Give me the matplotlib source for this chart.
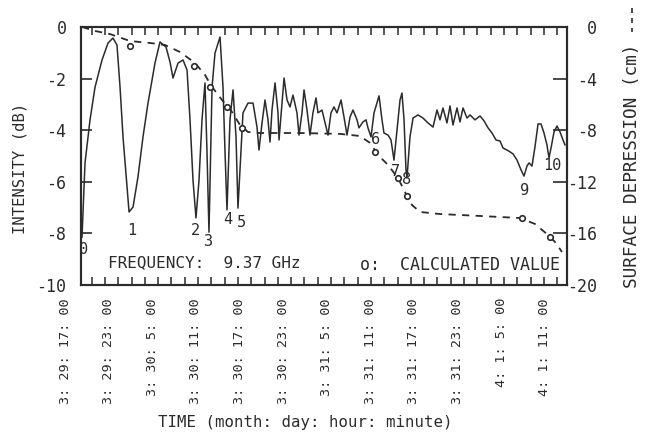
import numpy as np
import matplotlib
matplotlib.use('Agg')
import matplotlib.pyplot as plt
from matplotlib.lines import Line2D
from matplotlib.ticker import FixedLocator

# ── Data (time in hours counted from 3/29 00:00) ───────────────────────────
time_h = [19.62, 20.03, 20.72, 21.41, 22.37, 23.20, 23.88, 24.43, 24.85, 25.26,
          25.81, 26.09, 26.64, 27.32, 28.01, 28.70, 29.66, 30.35, 31.18, 31.73,
          32.14, 32.83, 33.52, 34.07, 34.48, 34.89, 35.30, 35.72, 36.13, 36.54,
          36.82, 37.09, 37.51, 37.92, 38.61, 39.02, 39.30, 39.57, 39.98, 40.40,
          40.81, 41.08, 41.77, 42.46, 43.15, 43.70, 43.97, 44.39, 44.80, 45.21,
          45.49, 45.76, 46.18, 46.59, 46.73, 47.14, 47.42, 47.83, 48.24, 48.65,
          49.20, 49.48, 49.89, 50.17, 50.58, 50.99, 51.40, 51.82, 52.09, 52.64,
          53.06, 53.47, 53.88, 54.29, 54.71, 55.26, 55.67, 56.08, 56.50, 56.91,
          57.46, 57.73, 58.28, 58.70, 58.97, 59.39, 59.80, 60.49, 60.90, 61.17,
          61.73, 62.14, 62.55, 62.96, 63.38, 63.65, 63.93, 64.20, 64.34, 64.75,
          65.17, 65.85, 66.54, 67.23, 67.92, 68.47, 68.88, 69.29, 69.84, 70.26,
          70.67, 71.22, 71.63, 72.05, 72.60, 73.01, 73.70, 74.39, 74.94, 75.49,
          76.04, 76.59, 77.14, 77.55, 78.10, 78.51, 78.93, 79.48, 80.03, 80.44,
          80.85, 81.13, 81.54, 81.95, 82.37, 82.78, 83.19, 83.60, 83.88, 84.16,
          84.57, 84.98, 85.40, 85.81, 86.08]
intensity_db = [-8.14, -5.27, -3.60, -2.33, -1.28, -0.62, -0.43, -0.70, -2.33, -4.26,
                -6.20, -7.17, -6.98, -5.81, -4.26, -2.95, -1.40, -0.58, -0.78, -1.36,
                -1.98, -1.40, -1.28, -1.67, -3.60, -5.93, -7.40, -5.93, -3.60, -2.17,
                -4.88, -7.95, -2.33, -1.01, -0.39, -2.33, -4.88, -7.09, -3.60, -2.44,
                -4.26, -7.02, -3.33, -2.95, -2.95, -3.88, -4.77, -3.72, -2.83, -3.60,
                -4.46, -3.22, -2.17, -3.33, -4.38, -2.95, -1.98, -2.83, -3.10, -2.64,
                -3.33, -4.19, -3.33, -2.44, -3.22, -4.19, -3.33, -2.75, -3.33, -3.22,
                -3.72, -4.19, -3.33, -3.10, -3.33, -2.83, -3.49, -4.19, -3.49, -3.22,
                -3.60, -3.91, -3.68, -3.60, -3.91, -4.26, -3.33, -2.67, -3.60, -4.11,
                -4.19, -4.38, -5.16, -3.99, -2.83, -2.56, -3.60, -5.54, -5.85, -4.26,
                -3.53, -3.41, -3.53, -3.72, -3.88, -3.22, -3.60, -3.14, -3.72, -3.06,
                -3.80, -3.14, -3.68, -3.14, -3.53, -3.41, -3.60, -3.45, -3.64, -3.91,
                -4.11, -4.38, -4.42, -4.69, -4.77, -4.84, -4.92, -5.16, -5.54, -5.78,
                -5.39, -5.27, -5.39, -4.65, -3.76, -3.76, -4.11, -4.57, -5.08, -4.69,
                -4.07, -3.84, -4.07, -4.38, -4.57]

depr_time_h = [19.62, 21.41, 23.47, 26.23, 28.98, 31.04, 33.10, 35.17, 36.54, 37.51,
               38.89, 40.26, 41.36, 42.46, 44.11, 49.61, 55.12, 57.87, 59.25, 60.35,
               61.73, 63.10, 64.06, 65.03, 66.13, 68.88, 74.39, 79.89, 81.95, 83.74,
               84.71, 85.67]
depr_cm = [0.0, -0.31, -0.55, -1.09, -1.24, -1.40, -1.94, -2.79, -3.72, -4.65,
           -5.66, -6.59, -7.60, -8.14, -8.22, -8.22, -8.29, -8.45, -8.99, -9.92,
           -10.70, -11.71, -12.79, -13.80, -14.34, -14.50, -14.65, -14.81, -15.27, -16.12,
           -16.67, -17.44]

calc_time_h = [26.22, 35.03, 37.23, 39.57, 41.64, 59.94, 63.10, 64.34, 80.16, 84.02]
calc_cm = [-1.47, -3.02, -4.65, -6.20, -7.83, -9.69, -11.71, -13.10, -14.81, -16.28]

minima_ids = ['0', '1', '2', '3', '4', '5', '6', '7', '8', '9', '10']
minima_time_h = [19.89, 26.50, 35.17, 37.09, 39.71, 41.50, 60.07, 62.83, 64.34, 80.58, 84.29]
minima_db = [-8.64, -7.87, -7.87, -8.33, -7.48, -7.56, -4.38, -5.62, -5.93, -6.32, -5.35]

label_hours = [17, 23, 29, 35, 41, 47, 53, 59, 65, 71, 77, 83]
label_text = ['3: 29: 17: 00', '3: 29: 23: 00', '3: 30: 5: 00', '3: 30: 11: 00',
              '3: 30: 17: 00', '3: 30: 23: 00', '3: 31: 5: 00', '3: 31: 11: 00',
              '3: 31: 17: 00', '3: 31: 23: 00', '4: 1: 5: 00', '4: 1: 11: 00']

# ── Style ──────────────────────────────────────────────────────────────────
plt.rcParams.update({
    'font.family': 'DejaVu Sans Mono',
    'axes.unicode_minus': False,
})
INK = '#2b2b2b'

fig = plt.figure(figsize=(6.45, 4.45), dpi=100)
fig.patch.set_facecolor('white')
ax = fig.add_axes([0.1256, 0.3596, 0.7535, 0.5798])
ax2 = ax.twinx()

ax.plot(time_h, intensity_db, color=INK, lw=1.1, zorder=3)
ax2.plot(depr_time_h, depr_cm, color=INK, lw=1.3, ls=(0, (4, 3.5)), zorder=2)
ax2.plot(calc_time_h, calc_cm, ls='none', marker='o', ms=4, mfc='white',
         mec=INK, mew=1.2, zorder=4)

for t, x, y in zip(minima_ids, minima_time_h, minima_db):
    ax.text(x, y, t, fontsize=11, ha='center', va='center', color=INK, zorder=5)

ax.text(0.055, 0.085, 'FREQUENCY:  9.37 GHz', transform=ax.transAxes,
        fontsize=11.5, color=INK, va='center')
ax.text(0.985, 0.078, 'o:  CALCULATED VALUE', transform=ax.transAxes,
        fontsize=12, color=INK, va='center', ha='right')

# ── Axes ───────────────────────────────────────────────────────────────────
ax.set_xlim(19.48, 86.36)
ax.set_ylim(-10, 0)
ax2.set_ylim(-20, 0)

ax.set_yticks([0, -2, -4, -6, -8, -10])
ax.set_yticklabels(['0', '-2', '-4', '-6', '-8', '-10'])
ax2.set_yticks([0, -4, -8, -12, -16, -20])
ax2.set_yticklabels(['0', '-4', '-8', '-12', '-16', '-20'])
ax.tick_params(axis='y', direction='in', length=8, width=1.2, pad=10.5,
               labelsize=12, colors=INK)
ax2.tick_params(axis='y', direction='in', length=10, width=1.2, pad=21.6,
                labelsize=12, colors=INK)
for lbl in ax2.get_yticklabels():
    lbl.set_horizontalalignment('right')

ax.set_xticks([])
ax.xaxis.set_minor_locator(FixedLocator(np.arange(20.95, 86.3, 1.83)))
ax.tick_params(axis='x', which='minor', direction='in', length=6, width=1.1,
               top=True, bottom=True, colors=INK)

for a in (ax, ax2):
    for s in a.spines.values():
        s.set_linewidth(1.5)
        s.set_color(INK)

for h, t in zip(label_hours, label_text):
    ax.annotate(t, xy=(h, 0), xycoords=('data', 'axes fraction'),
                xytext=(1.5, -9.4), textcoords='offset points',
                rotation=90, ha='center', va='top', fontsize=9.7,
                color=INK, annotation_clip=False)

fig.text(20 / 645, 1 - 168 / 445, 'INTENSITY (dB)', rotation=90,
         ha='center', va='center', fontsize=11.2, color=INK)
fig.text(305 / 645, 1 - 423 / 445, 'TIME (month: day: hour: minute)',
         ha='center', va='center', fontsize=11.3, color=INK)
fig.text(632 / 645, 1 - 166 / 445, 'SURFACE DEPRESSION (cm)', rotation=90,
         ha='center', va='center', fontsize=12.8, color=INK)
# dashed-line key next to the right axis title
fig.add_artist(Line2D([632 / 645, 632 / 645], [1 - 8 / 445, 1 - 32 / 445],
                      transform=fig.transFigure, color=INK, lw=1.2,
                      ls=(0, (3, 3))))

fig.savefig('out.png', dpi=100, facecolor='white')
